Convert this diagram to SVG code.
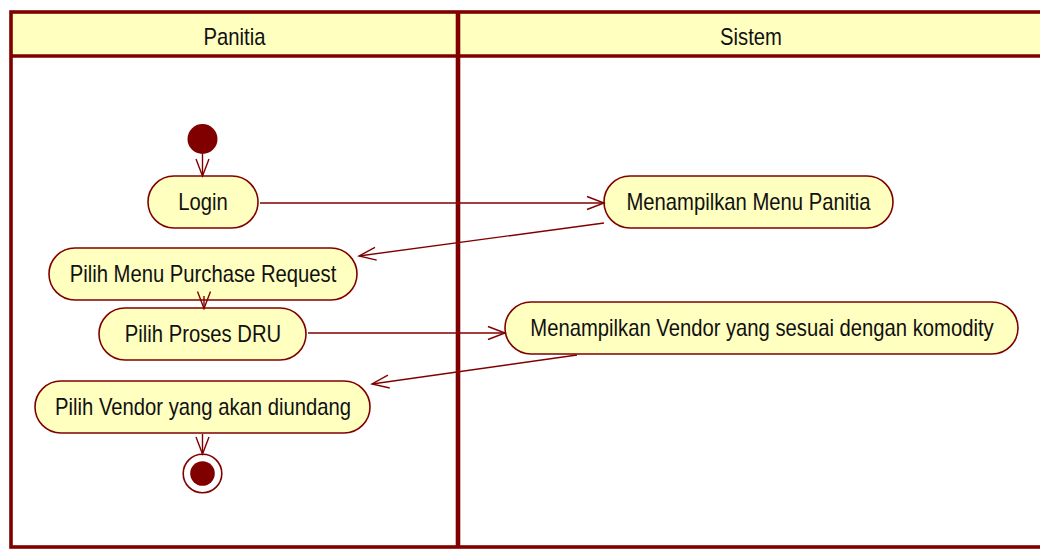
<svg xmlns="http://www.w3.org/2000/svg" width="1040" height="549" viewBox="0 0 1040 549">
<style>
.lane{fill:#FFFFBF;stroke:none}
.frame{fill:none;stroke:#800000}
.act{fill:#FFFFC0;stroke:#800000;stroke-width:1.6}
.lbl{font-family:"Liberation Sans",Arial,sans-serif;font-size:23px;fill:#111;text-anchor:middle}
.con{fill:none;stroke:#800000;stroke-width:1.4}
</style>
<defs>
<marker id="ah" markerUnits="userSpaceOnUse" markerWidth="24" markerHeight="20" viewBox="-20 -10 24 20" refX="0" refY="0" orient="auto">
<path d="M-17,-6.5 L0,0 L-17,6.5" fill="none" stroke="#800000" stroke-width="1.4"/>
</marker>
</defs>
<rect width="1040" height="549" fill="#fff"/>
<g id="swimlanes">
<rect class="lane" x="11" y="12" width="1033" height="44"/>
<rect class="frame" x="11" y="12" width="1033" height="535" stroke-width="3.6"/>
<line class="frame" x1="11" y1="56" x2="1044" y2="56" stroke-width="3.4"/>
<line class="frame" x1="458" y1="12" x2="458" y2="547" stroke-width="4.6"/>
<text class="lbl" transform="translate(234.5,45) scale(0.88,1)">Panitia</text>
<text class="lbl" transform="translate(751,45) scale(0.88,1)">Sistem</text>
</g>
<g id="start">
<circle cx="202.5" cy="139" r="15" fill="#800000"/>
</g>
<g id="login">
<rect class="act" x="148" y="176" width="110" height="52" rx="26"/>
<text class="lbl" transform="translate(203,210) scale(0.88,1)">Login</text>
</g>
<g id="menampilkan-menu">
<rect class="act" x="604" y="176" width="289" height="52" rx="26"/>
<text class="lbl" transform="translate(748.5,210) scale(0.88,1)">Menampilkan Menu Panitia</text>
</g>
<g id="pilih-menu">
<rect class="act" x="49" y="248" width="308" height="52" rx="26"/>
<text class="lbl" transform="translate(203,282) scale(0.88,1)">Pilih Menu Purchase Request</text>
</g>
<g id="pilih-dru">
<rect class="act" x="99" y="308" width="207" height="52" rx="26"/>
<text class="lbl" transform="translate(203,342) scale(0.88,1)">Pilih Proses DRU</text>
</g>
<g id="menampilkan-vendor">
<rect class="act" x="505" y="302" width="513" height="52" rx="26"/>
<text class="lbl" transform="translate(762,336) scale(0.88,1)">Menampilkan Vendor yang sesuai dengan komodity</text>
</g>
<g id="pilih-vendor">
<rect class="act" x="35" y="381" width="335" height="52" rx="26"/>
<text class="lbl" transform="translate(203,415) scale(0.88,1)">Pilih Vendor yang akan diundang</text>
</g>
<g id="end">
<circle cx="202.5" cy="473.5" r="19.3" fill="#fff" stroke="#800000" stroke-width="1.6"/>
<circle cx="202.5" cy="473.5" r="12.3" fill="#800000"/>
</g>
<g id="connectors">
<line class="con" x1="202.5" y1="154" x2="202.5" y2="176" marker-end="url(#ah)"/>
<line class="con" x1="260" y1="203" x2="604" y2="203" marker-end="url(#ah)"/>
<line class="con" x1="604" y1="223" x2="359" y2="256" marker-end="url(#ah)"/>
<line class="con" x1="204" y1="296" x2="204" y2="308.5" marker-end="url(#ah)"/>
<line class="con" x1="308" y1="333" x2="505" y2="333" marker-end="url(#ah)"/>
<line class="con" x1="577" y1="355" x2="372" y2="384" marker-end="url(#ah)"/>
<line class="con" x1="202.5" y1="434" x2="202.5" y2="454" marker-end="url(#ah)"/>
</g>
</svg>
